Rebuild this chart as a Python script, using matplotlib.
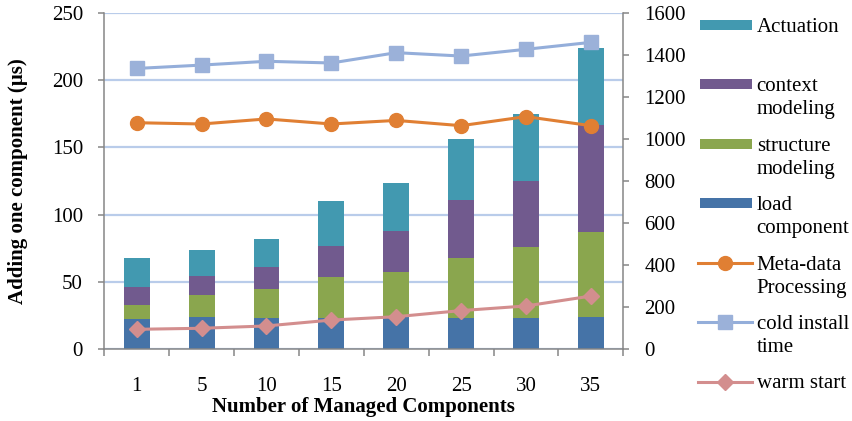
import matplotlib
matplotlib.use("Agg")
import matplotlib.pyplot as plt
from matplotlib.patches import Rectangle
from matplotlib.lines import Line2D
import numpy as np

plt.rcParams['font.family'] = ['Liberation Serif', 'DejaVu Serif']

# ---- data ----
categories = ["1", "5", "10", "15", "20", "25", "30", "35"]
load_component = [22.7, 23.8, 23.0, 23.5, 24.0, 23.5, 23.5, 24.2]
structure_modeling = [10.2, 16.5, 22.0, 30.2, 33.4, 44.5, 52.2, 62.7]
context_modeling = [13.1, 14.3, 15.9, 23.2, 30.2, 42.6, 49.0, 79.8]
actuation = [21.5, 18.9, 21.2, 33.0, 35.6, 45.8, 50.0, 56.8]
meta_data = [1077, 1071, 1095, 1071, 1088, 1063, 1106, 1063]
cold_install = [1335, 1351, 1369, 1361, 1410, 1394, 1426, 1459]
warm_start = [95, 100, 111, 139, 155, 184, 206, 253]

left_ticks = [0, 50, 100, 150, 200, 250]
right_ticks = [0, 200, 400, 600, 800, 1000, 1200, 1400, 1600]

# ---- colours ----
c_load = "#4573A7"
c_struct = "#8AA64E"
c_ctx = "#715A8E"
c_act = "#4299B0"
c_meta = "#E07F33"
c_cold = "#94AEDA"
c_cold_m = "#9BB1D9"
c_warm = "#D38E8E"
c_axis = "#868686"
c_grid = "#B9CCEA"

W, H = 853, 421
fig = plt.figure(figsize=(W / 100, H / 100), dpi=100)

def fx(x):
    return x / W

def fy(y):
    return 1 - y / H

ax_l, ax_r, ax_t, ax_b = 104.3, 623.3, 12.7, 349.3
ax = fig.add_axes([fx(ax_l), fy(ax_b), fx(ax_r) - fx(ax_l), fy(ax_t) - fy(ax_b)])
ax2 = ax.twinx()

x = np.arange(len(categories))
bw = 0.4
b1 = np.array(load_component)
b2 = b1 + np.array(structure_modeling)
b3 = b2 + np.array(context_modeling)
ax.bar(x, load_component, bw, color=c_load, zorder=2)
ax.bar(x, structure_modeling, bw, bottom=b1, color=c_struct, zorder=2)
ax.bar(x, context_modeling, bw, bottom=b2, color=c_ctx, zorder=2)
ax.bar(x, actuation, bw, bottom=b3, color=c_act, zorder=2)

ax.set_ylim(0, 250)
ax.set_yticks(left_ticks)
ax.set_xlim(-0.5, len(categories) - 0.5)
ax.set_axisbelow(True)
ax.yaxis.grid(True, color=c_grid, linewidth=1.6)
ax.set_xticks(np.arange(-0.5, len(categories), 1.0))
ax.set_xticklabels([])
ax.set_xticks(x, minor=True)
ax.set_xticklabels(categories, minor=True)
ax.tick_params(axis='x', which='major', direction='out', length=5, width=1.1, color=c_axis)
ax.tick_params(axis='x', which='minor', length=0, pad=20, labelsize=15)
ax.tick_params(axis='y', direction='out', length=4.3, width=1.1, color=c_axis, pad=11, labelsize=15)

for s in ['top', 'right']:
    ax.spines[s].set_visible(False)
for s in ['left', 'bottom']:
    ax.spines[s].set_color(c_axis)
    ax.spines[s].set_linewidth(1.1)

ax2.plot(x, meta_data, color=c_meta, lw=2.2, marker='o', ms=10, mec=c_meta, mfc=c_meta, zorder=3)
ax2.plot(x, cold_install, color=c_cold, lw=2.2, marker='s', ms=10, mec=c_cold_m, mfc=c_cold_m, zorder=3)
ax2.plot(x, warm_start, color=c_warm, lw=2.2, marker='D', ms=8, mec=c_warm, mfc=c_warm, zorder=3)
ax2.set_ylim(0, 1600)
ax2.set_yticks(right_ticks)
ax2.tick_params(axis='y', direction='out', length=4.3, width=1.1, color=c_axis, pad=11, labelsize=15)
for s in ['top', 'left', 'bottom']:
    ax2.spines[s].set_visible(False)
ax2.spines['right'].set_color(c_axis)
ax2.spines['right'].set_linewidth(1.1)

ax.set_xlabel("Number of Managed Components", fontsize=15, fontweight='bold')
ax.xaxis.set_label_coords(0.5, (ax_b - 407) / (ax_b - ax_t))
ax.xaxis.label.set_va('center')
ax.set_ylabel("Adding one component (µs)", fontsize=15, fontweight='bold')
ax.yaxis.set_label_coords((18 - ax_l) / (ax_r - ax_l), 0.5)
ax.yaxis.label.set_va('center')

# ---- legend (manual, Excel style) ----
entries = [
    ("Actuation", "patch", c_act, None, None),
    ("context\nmodeling", "patch", c_ctx, None, None),
    ("structure\nmodeling", "patch", c_struct, None, None),
    ("load\ncomponent", "patch", c_load, None, None),
    ("Meta-data\nProcessing", "line", c_meta, 'o', c_meta),
    ("cold install\ntime", "line", c_cold, 's', c_cold_m),
    ("warm start", "line", c_warm, 'D', c_warm),
]
for i, (lab, kind, col, mk, mcol) in enumerate(entries):
    yc = 24.5 + i * 59.5
    if kind == "patch":
        fig.add_artist(Rectangle((fx(700), fy(yc + 5)), fx(751.7) - fx(700), fy(yc - 5) - fy(yc + 5),
                                 transform=fig.transFigure, color=col, lw=0))
    else:
        fig.add_artist(Line2D([fx(698.3), fx(751.7)], [fy(yc), fy(yc)], transform=fig.transFigure,
                              color=col, lw=2.2))
        ms = 8 if mk == 'D' else 10
        fig.add_artist(Line2D([fx(725)], [fy(yc)], transform=fig.transFigure, marker=mk, ms=ms,
                              mfc=mcol, mec=mcol, lw=0))
    fig.text(fx(756.7), fy(yc + 7.5 - 14.5), lab, fontsize=15, va='top', ha='left', linespacing=1.3)

fig.savefig("out.png", dpi=100)
